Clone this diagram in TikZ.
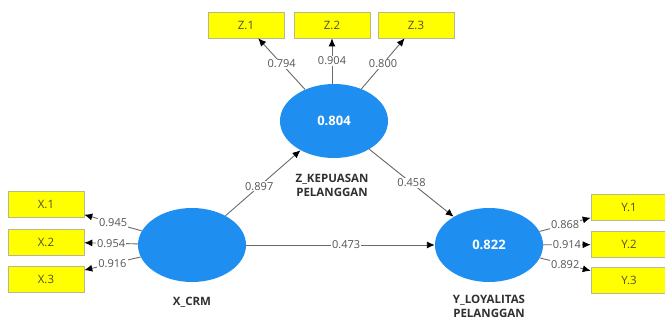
\documentclass[tikz,border=0pt]{standalone}
\usepackage{fontspec}
\setmainfont{Open Sans}
\usetikzlibrary{shapes.geometric,arrows.meta}
\definecolor{lvblue}{HTML}{1E8EF0}
\definecolor{indyellow}{HTML}{FFFF00}
\definecolor{indborder}{HTML}{B8B890}
\definecolor{boxtext}{HTML}{505030}
\definecolor{linegray}{HTML}{6A6A6A}
\definecolor{numgray}{HTML}{555555}
\definecolor{namecol}{HTML}{303030}
\begin{document}
\begin{tikzpicture}[x=1pt,y=-1pt,
 lv/.style={ellipse, fill=lvblue, minimum width=108pt, minimum height=74pt, inner sep=0pt, text=white, font=\bfseries\fontsize{13}{14}\selectfont},
 ind/.style={rectangle, fill=indyellow, draw=indborder, line width=0.6pt, minimum width=76pt, minimum height=26pt, inner sep=0pt, text=boxtext, font=\fontsize{11.5}{13}\selectfont},
 arr/.style={draw=linegray, line width=0.9pt, -{Latex[length=8pt,width=7pt,color=black]}},
 coef/.style={fill=white, inner sep=1pt, text=numgray, font=\fontsize{11}{12}\selectfont},
 lvname/.style={font=\bfseries\fontsize{11.5}{14}\selectfont, text=namecol, align=center}
]
\useasboundingbox (0,0) rectangle (665,320);
\clip (0,0) rectangle (665,320);
% latent variables
\node[lv] (Z) at (334,121) {0.804};
\node[lv] (X) at (192,245) {};
\node[lv] (Y) at (489,245) {0.822};
% names
\node[lvname] (Zn) at (332,185.5) {Z\_KEPUASAN\\PELANGGAN};
\node[lvname] (Xn) at (192,302) {X\_CRM};
\node[lvname] (Yn) at (489,306.5) {Y\_LOYALITAS\\PELANGGAN};
% indicators
\node[ind] (Z1) at (246,25) {Z.1};
\node[ind] (Z2) at (332,25) {Z.2};
\node[ind] (Z3) at (416,25) {Z.3};
\node[ind] (X1) at (46,204) {X.1};
\node[ind] (X2) at (46,242) {X.2};
\node[ind] (X3) at (46,279) {X.3};
\node[ind] (Y1) at (629,207.5) {Y.1};
\node[ind] (Y2) at (629,244.5) {Y.2};
\node[ind] (Y3) at (629,280.5) {Y.3};
% outer loadings
\draw[arr] (Z) -- (Z1) node[coef,pos=0.5] {0.794};
\draw[arr] (Z.north -| Z2) -- (Z2) node[coef,pos=0.5] {0.904};
\draw[arr] (Z) -- (Z3) node[coef,pos=0.5] {0.800};
\draw[arr] (X) -- (X1) node[coef,pos=0.5] {0.945};
\draw[arr] (X) -- (X2) node[coef,pos=0.5] {0.954};
\draw[arr] (X) -- (X3) node[coef,pos=0.5] {0.916};
\draw[arr] (Y) -- (Y1) node[coef,pos=0.5] {0.868};
\draw[arr] (Y) -- (Y2) node[coef,pos=0.5] {0.914};
\draw[arr] (Y) -- (Y3) node[coef,pos=0.5] {0.892};
% path coefficients
\draw[arr] (X) -- (Z) node[coef,pos=0.45] {0.897};
\draw[arr] (Z) -- (Y) node[coef,pos=0.5] {0.458};
\draw[arr] (X) -- (Y) node[coef,pos=0.53] {0.473};
\end{tikzpicture}
\end{document}
